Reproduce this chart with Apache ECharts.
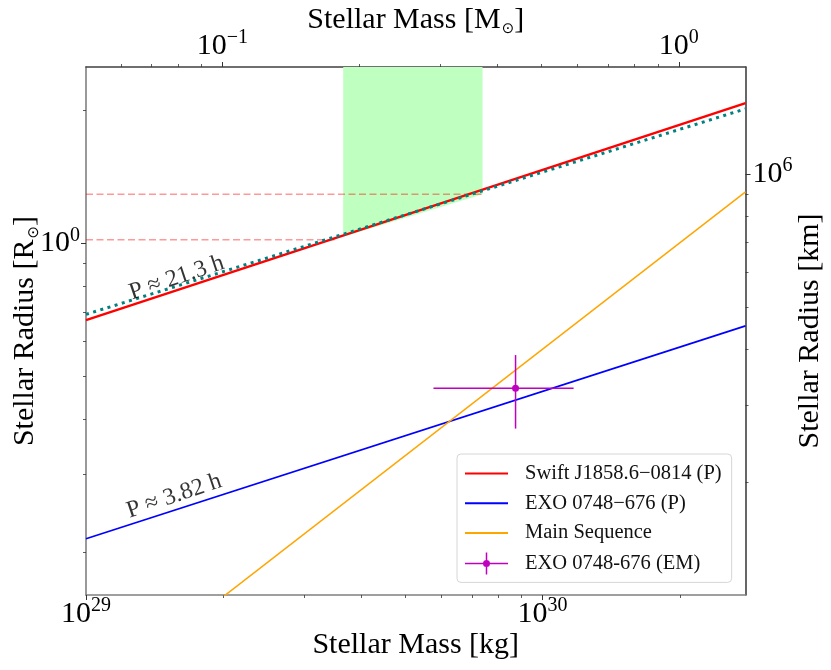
<!DOCTYPE html>
<html>
<head>
<meta charset="utf-8">
<script src="https://cdn.jsdelivr.net/npm/echarts@6/dist/echarts.min.js"></script>
<style>
html, body { margin: 0; padding: 0; background: #fff; }
#chart { width: 831px; height: 670px; }
</style>
</head>
<body>
<div id="chart"></div>
<script>
var MSUN = 1.989e30;     // kg
var RSUN_KM = 6.957e5;   // km

// axis ranges (bottom: kg, left: R_sun)
var massRange = [1e29, 1.4 * MSUN];
var radiusRange = [0.16, 2.51];

// tick values
var massMajor = [1e29, 1e30];
var massMinor = [2e29, 3e29, 4e29, 5e29, 6e29, 7e29, 8e29, 9e29, 2e30];
var msunMajor = [0.1, 1];
var msunMinor = [0.06, 0.07, 0.08, 0.09, 0.2, 0.3, 0.4, 0.5, 0.6, 0.7, 0.8, 0.9];
var rsunMajor = [1];
var rsunMinor = [0.2, 0.3, 0.4, 0.5, 0.6, 0.7, 0.8, 0.9, 2];
var kmMajor = [1e6];
var kmMinor = [2e5, 3e5, 4e5, 5e5, 6e5, 7e5, 8e5, 9e5];

// curves (mass in kg, radius in R_sun)
var swiftMass = [1e29, 2.785e30];
var swiftRadius = [0.671, 2.08];
var swiftDotRadius = [0.691, 2.018];
var exoMass = [1e29, 2.785e30];
var exoRadius = [0.2145, 0.651];
var msMass = [1.989e29, 2.785e30];
var msRadius = [0.158, 1.309];

// EXO 0748-676 measured point
var emMass = [8.73e29];
var emMassLow = [5.77e29];
var emMassHigh = [1.17e30];
var emRadius = [0.47];
var emRadiusLow = [0.381];
var emRadiusHigh = [0.559];

// shaded allowed region and dashed guides
var bandMass = [3.66e29, 7.39e29];
var bandRadius = [1.036, 1.293];
var guideRadius = [1.02, 1.293];
var guideMassEnd = [3.56e29, 7.39e29];

// period annotations
var noteText = ['P ≈ 21.3 h', 'P ≈ 3.82 h'];
var noteMass = [1.58e29, 1.56e29];
var noteRadius = [0.836, 0.268];

var FONT = 'Liberation Serif';

function pairs(xs, ys) {
    var out = [];
    for (var i = 0; i < xs.length; i++) out.push([xs[i], ys[i]]);
    return out;
}

var powRich = {
    b: { fontFamily: FONT, fontSize: 30, lineHeight: 30, verticalAlign: 'bottom', color: '#000' },
    s: { fontFamily: FONT, fontSize: 20, lineHeight: 20, verticalAlign: 'bottom', padding: [0, 0, 13, 0], color: '#000' }
};
function powLabel(v) {
    var e = Math.round(Math.log10(v));
    return '{b|10}{s|' + (e < 0 ? '\u2212' + (-e) : e) + '}';
}

var nameRich = {
    b: { fontFamily: FONT, fontSize: 30, lineHeight: 30, verticalAlign: 'top', color: '#000' },
    o: { fontFamily: 'DejaVu Sans', fontSize: 15, lineHeight: 15, verticalAlign: 'top', padding: [17, 0, 0, 1], color: '#000' }
};

function majorAxis(type, pos, range, ticks, name, gap, margin, lineColor) {
    var ax = {
        type: 'log', logBase: 10, position: pos,
        min: range[0], max: range[1],
        name: name, nameLocation: 'middle', nameGap: gap,
        nameMoveOverlap: false,
        nameTextStyle: { rich: nameRich },
        axisLine: { show: true, onZero: false, lineStyle: { color: lineColor, width: 1.6 } },
        axisTick: { show: true, inside: false, length: 5, customValues: ticks, lineStyle: { color: '#333', width: 1 } },
        minorTick: { show: false },
        axisLabel: { show: true, margin: margin, customValues: ticks, formatter: powLabel, rich: powRich },
        splitLine: { show: false }
    };
    if (type === 'y') ax.nameRotate = 90;
    return ax;
}

function minorAxis(pos, range, ticks) {
    return {
        type: 'log', logBase: 10, position: pos,
        min: range[0], max: range[1],
        axisLine: { show: false },
        axisTick: { show: true, inside: false, length: 3, customValues: ticks, lineStyle: { color: '#333', width: 0.8 } },
        axisLabel: { show: false },
        splitLine: { show: false }
    };
}

var msunRange = [massRange[0] / MSUN, massRange[1] / MSUN];
var kmRange = [radiusRange[0] * RSUN_KM, radiusRange[1] * RSUN_KM];

var lineIcon = 'path://M0,0 L43,0 L43,2 L0,2 Z';
var errIcon = 'path://M0,10.25 L43,10.25 L43,11.75 L0,11.75 Z M20.75,0 L22.25,0 L22.25,22 L20.75,22 Z M25,11 A3.5,3.5 0 1,1 18,11 A3.5,3.5 0 1,1 25,11 Z';

var myChart = echarts.init(document.getElementById('chart'));

var option = {
    animation: false,
    backgroundColor: '#fff',
    grid: { left: 86, right: 85.5, top: 67, bottom: 75, containLabel: false, outerBoundsMode: 'none' },
    xAxis: [
        majorAxis('x', 'bottom', massRange, massMajor, '{b|Stellar Mass [kg]}', 35, 4, '#808080'),
        majorAxis('x', 'top', msunRange, msunMajor, '{b|Stellar Mass [M}{o|\u2299}{b|]}', 32, 6, '#404040'),
        minorAxis('bottom', massRange, massMinor),
        minorAxis('top', msunRange, msunMinor)
    ],
    yAxis: [
        majorAxis('y', 'left', radiusRange, rsunMajor, '{b|Stellar Radius [R}{o|\u2299}{b|]}', 46, 6, '#808080'),
        majorAxis('y', 'right', kmRange, kmMajor, '{b|Stellar Radius [km]}', 50, 7, '#404040'),
        minorAxis('left', radiusRange, rsunMinor),
        minorAxis('right', kmRange, kmMinor)
    ],
    legend: {
        orient: 'vertical', left: 457, top: 454,
        padding: [9, 10, 8, 8],
        itemWidth: 43, itemHeight: 22, itemGap: 8.8,
        symbolKeepAspect: true,
        backgroundColor: 'rgba(255,255,255,0.85)',
        borderColor: '#d6d6d6', borderWidth: 1, borderRadius: 4,
        textStyle: { fontFamily: FONT, fontSize: 20.5, color: '#111', padding: [0, 0, 0, 12] },
        data: [
            { name: 'Swift J1858.6\u22120814 (P)', icon: lineIcon },
            { name: 'EXO 0748\u2212676 (P)', icon: lineIcon },
            { name: 'Main Sequence', icon: lineIcon },
            { name: 'EXO 0748-676 (EM)', icon: errIcon }
        ]
    },
    series: [
        {
            type: 'custom',
            silent: true,
            data: [[bandMass[0], bandMass[1], bandRadius[0], bandRadius[1]]],
            encode: { x: [0, 1], y: [2, 3] },
            renderItem: function (params, api) {
                var top = radiusRange[1];
                var pts = [
                    api.coord([api.value(0), top]),
                    api.coord([api.value(1), top]),
                    api.coord([api.value(1), api.value(3)]),
                    api.coord([api.value(0), api.value(2)])
                ];
                return { type: 'polygon', shape: { points: pts }, style: { fill: '#bfffbf' } };
            },
            z: 1
        },
        {
            type: 'line', symbol: 'none', silent: true,
            data: pairs([massRange[0], guideMassEnd[0]], [guideRadius[0], guideRadius[0]]),
            lineStyle: { color: 'rgba(255,0,0,0.4)', width: 1.6, type: [7, 3.5] },
            z: 2
        },
        {
            type: 'line', symbol: 'none', silent: true,
            data: pairs([massRange[0], guideMassEnd[1]], [guideRadius[1], guideRadius[1]]),
            lineStyle: { color: 'rgba(255,0,0,0.4)', width: 1.6, type: [7, 3.5] },
            z: 2
        },
        {
            name: 'Swift J1858.6\u22120814 (P)',
            type: 'line', symbol: 'none',
            data: pairs(swiftMass, swiftRadius),
            color: '#ff0000',
            lineStyle: { color: '#ff0000', width: 2.3 },
            z: 3
        },
        {
            type: 'line', symbol: 'none',
            data: pairs(swiftMass, swiftDotRadius),
            lineStyle: { color: '#008080', width: 3, type: [3, 4.5], cap: 'butt' },
            z: 4
        },
        {
            name: 'EXO 0748\u2212676 (P)',
            type: 'line', symbol: 'none',
            data: pairs(exoMass, exoRadius),
            color: '#0000ff',
            lineStyle: { color: '#0000ff', width: 1.7 },
            z: 3
        },
        {
            name: 'Main Sequence',
            type: 'line', symbol: 'none',
            data: pairs(msMass, msRadius),
            color: '#ffa500',
            lineStyle: { color: '#ffa500', width: 1.5 },
            z: 3
        },
        {
            name: 'EXO 0748-676 (EM)',
            type: 'custom',
            itemStyle: { color: '#bf00bf' },
            data: [[emMass[0], emRadius[0], emMassLow[0], emMassHigh[0], emRadiusLow[0], emRadiusHigh[0]]],
            encode: { x: [0, 2, 3], y: [1, 4, 5] },
            renderItem: function (params, api) {
                var c = api.coord([api.value(0), api.value(1)]);
                var xl = api.coord([api.value(2), api.value(1)]);
                var xh = api.coord([api.value(3), api.value(1)]);
                var yl = api.coord([api.value(0), api.value(4)]);
                var yh = api.coord([api.value(0), api.value(5)]);
                var st = { stroke: '#bf00bf', lineWidth: 1.5 };
                return {
                    type: 'group',
                    children: [
                        { type: 'line', shape: { x1: xl[0], y1: xl[1], x2: xh[0], y2: xh[1] }, style: st },
                        { type: 'line', shape: { x1: yl[0], y1: yl[1], x2: yh[0], y2: yh[1] }, style: st },
                        { type: 'circle', shape: { cx: c[0], cy: c[1], r: 3.5 }, style: { fill: '#bf00bf' } }
                    ]
                };
            },
            z: 5
        },
        {
            type: 'scatter', silent: true,
            symbolSize: 0,
            data: [
                [noteMass[0], noteRadius[0], noteText[0]],
                [noteMass[1], noteRadius[1], noteText[1]]
            ],
            label: {
                show: true, position: 'inside', rotate: 18.5,
                formatter: function (p) { return p.value[2]; },
                fontFamily: FONT, fontSize: 24, color: '#000'
            },
            z: 6
        }
    ]
};

myChart.setOption(option);
window.addEventListener('resize', function () {
    myChart.resize();
});
</script>
</body>
</html>
